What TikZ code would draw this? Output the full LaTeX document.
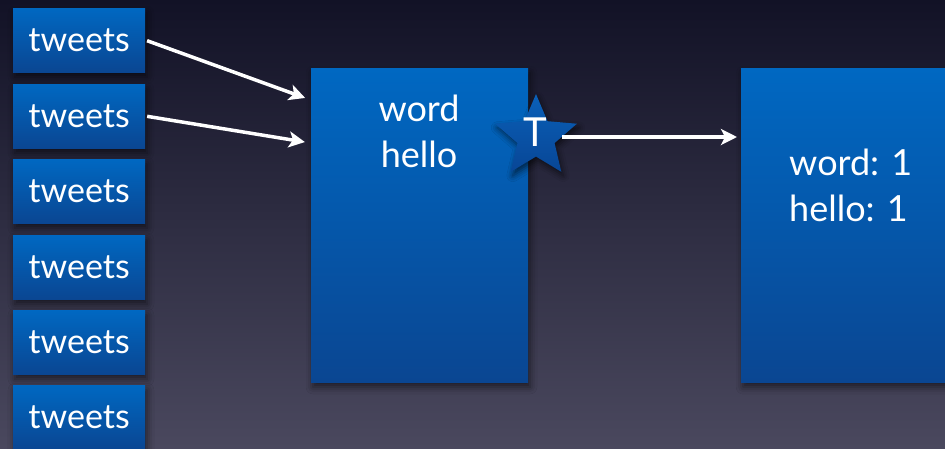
\documentclass[tikz,border=0pt]{standalone}
\usepackage{fontspec}
\setmainfont{Lato}
\usetikzlibrary{shapes.geometric,arrows.meta,shadows.blur}
\definecolor{bgtop}{RGB}{18,18,38}
\definecolor{bgbot}{RGB}{74,72,94}
\definecolor{boxtop}{RGB}{0,104,194}
\definecolor{boxbot}{RGB}{10,70,146}
\definecolor{startop}{RGB}{10,96,184}
\definecolor{starbot}{RGB}{8,70,150}
\tikzset{
  panel/.style={rectangle, inner sep=0pt, top color=boxtop, bottom color=boxbot,
    blur shadow={shadow xshift=2pt, shadow yshift=-5pt, shadow blur radius=7pt, shadow opacity=55}},
  tweetbox/.style={panel, minimum width=132pt, minimum height=64pt,
    text=white, font=\fontsize{34}{40}\selectfont},
  bigtext/.style={text=white, inner sep=0pt, font=\fontsize{36}{46}\selectfont},
  flow/.style={draw=white, line width=3.5pt, -{Stealth[length=16pt,width=16pt,inset=4pt]}},
}
\begin{document}
\begin{tikzpicture}[x=1pt,y=-1pt]
  \useasboundingbox (0,0) rectangle (945,448);
  \shade[top color=bgtop, bottom color=bgbot] (0,0) rectangle (945,448);

  % input streams
  \node[tweetbox] (t1) at (79,40)  {tweets};
  \node[tweetbox] (t2) at (79,116) {tweets};
  \node[tweetbox] (t3) at (79,191) {tweets};
  \node[tweetbox] (t4) at (79,267) {tweets};
  \node[tweetbox] (t5) at (79,342) {tweets};
  \node[tweetbox] (t6) at (79,417) {tweets};

  % splitter
  \node[panel, minimum width=217pt, minimum height=314pt] (mid) at (419.5,225) {};
  \node[bigtext, align=center] (midtext) at (419,131) {word\\hello};

  % counter
  \node[panel, minimum width=240pt, minimum height=314pt, anchor=north west] (right) at (741,68) {};
  \node[bigtext, align=left, anchor=west] (righttext) at (789,185) {word: 1\\hello: 1};

  % trigger star
  \node[star, star points=5, star point ratio=2.2, minimum size=86pt, inner sep=0pt,
        top color=startop, bottom color=starbot,
        blur shadow={shadow xshift=2pt, shadow yshift=-4pt, shadow blur radius=6pt, shadow opacity=60}]
        (star) at (536,137) {};
  \node[text=white, inner sep=0pt, font=\fontsize{40}{44}\selectfont] (starT) at (535,132) {T};

  % connectors
  \draw[flow, shorten <=2pt, shorten >=6pt] (t1.east) -- ([yshift=125pt]mid.west);
  \draw[flow, shorten <=2pt, shorten >=6pt] (t2.east) -- ([yshift=82pt]mid.west);
  \draw[flow, shorten >=4pt] (star) -- (right.west |- star);
\end{tikzpicture}
\end{document}
